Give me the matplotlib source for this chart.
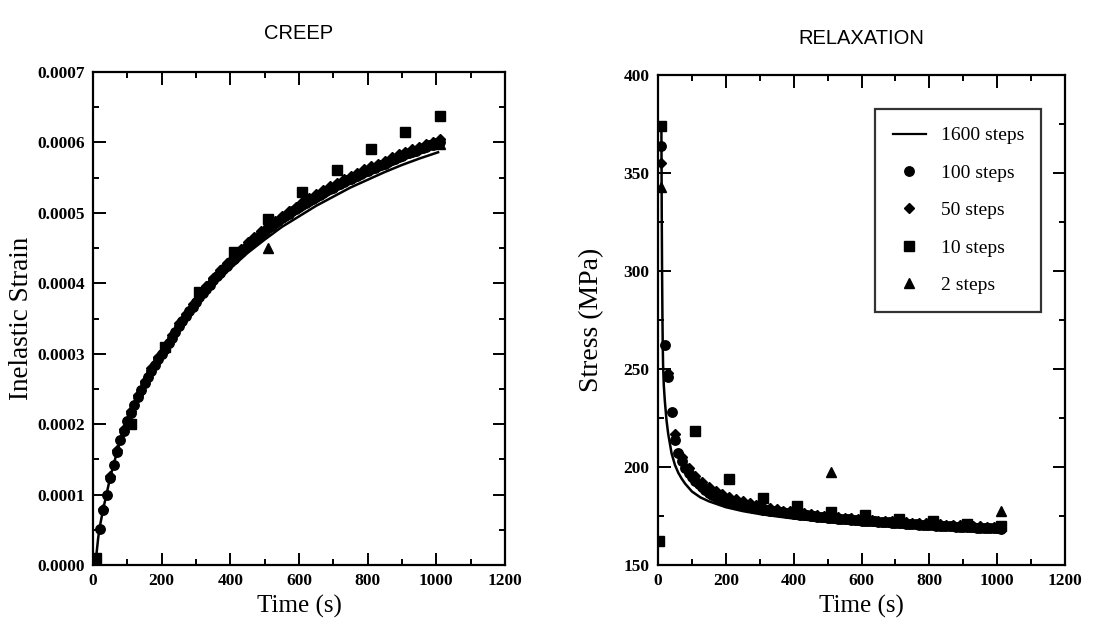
import numpy as np
import matplotlib
matplotlib.use("Agg")
import matplotlib.pyplot as plt
from matplotlib.ticker import MultipleLocator, FormatStrFormatter
from matplotlib.lines import Line2D

# ---------------- CREEP data (strain in units of 1e-4) ----------------
creep_t100 = np.arange(10, 1011, 10)
creep_100 = [0.10, 0.51, 0.78, 1.00, 1.24, 1.42, 1.61, 1.78, 1.90, 2.05,
             2.16, 2.27, 2.38, 2.48, 2.58, 2.67, 2.76, 2.84, 2.92, 3.00,
             3.07, 3.15, 3.23, 3.31, 3.39, 3.46, 3.53, 3.60, 3.67, 3.74,
             3.80, 3.86, 3.92, 3.98, 4.04, 4.10, 4.15, 4.20, 4.25, 4.30,
             4.35, 4.40, 4.45, 4.49, 4.54, 4.58, 4.62, 4.66, 4.70, 4.74,
             4.78, 4.82, 4.85, 4.89, 4.92, 4.95, 4.99, 5.02, 5.05, 5.08,
             5.11, 5.14, 5.17, 5.20, 5.22, 5.25, 5.28, 5.31, 5.34, 5.36,
             5.39, 5.41, 5.44, 5.46, 5.48, 5.51, 5.53, 5.55, 5.58, 5.60,
             5.62, 5.64, 5.66, 5.68, 5.70, 5.72, 5.75, 5.77, 5.79, 5.81,
             5.83, 5.85, 5.87, 5.88, 5.90, 5.92, 5.94, 5.96, 5.97, 5.99,
             6.01]
creep_t50 = np.arange(10, 1011, 20)
creep_50 = [0.10, 0.80, 1.26, 1.63, 1.93, 2.19, 2.41, 2.61, 2.80, 2.96,
            3.11, 3.27, 3.43, 3.57, 3.71, 3.84, 3.96, 4.08, 4.19, 4.29,
            4.39, 4.49, 4.58, 4.66, 4.74, 4.82, 4.89, 4.96, 5.03, 5.09,
            5.15, 5.21, 5.27, 5.32, 5.38, 5.43, 5.48, 5.53, 5.57, 5.62,
            5.66, 5.70, 5.74, 5.79, 5.83, 5.87, 5.91, 5.94, 5.98, 6.01,
            6.05]
creep_t10 = np.arange(10, 1011, 100)
creep_10 = [0.10, 2.00, 3.10, 3.88, 4.44, 4.91, 5.29, 5.61, 5.90, 6.15, 6.38]
creep_t2 = [10, 510, 1010]
creep_2 = [0.10, 4.50, 5.98]
creep_tline = [0, 5, 10, 15, 20, 30, 40, 50, 60, 80, 100, 125, 150, 175, 200,
               250, 300, 350, 400, 450, 500, 550, 600, 650, 700, 750, 800,
               850, 900, 950, 1005]
creep_line = [0.0, 0.05, 0.15, 0.38, 0.55, 0.80, 1.02, 1.24, 1.43, 1.77, 2.04,
              2.33, 2.57, 2.79, 2.98, 3.34, 3.70, 3.97, 4.21, 4.43, 4.62,
              4.80, 4.95, 5.10, 5.23, 5.36, 5.47, 5.58, 5.68, 5.77, 5.86]
STRAIN_UNIT = 1e-4

# ---------------- RELAXATION data (MPa) ----------------
relax_t100 = np.arange(10, 1011, 10)
relax_100 = [364, 262, 246, 228, 214, 207, 203, 199.5, 197, 195,
             193.0, 191.2, 189.6, 188.2, 186.9, 185.8, 184.8, 183.9, 183.1, 182.3,
             181.9, 181.5, 181.1, 180.6, 180.2, 179.9, 179.6, 179.2, 178.9, 178.6,
             178.3, 178.1, 177.8, 177.5, 177.3, 177.0, 176.8, 176.5, 176.3, 176.1,
             175.9, 175.7, 175.5, 175.3, 175.1, 174.9, 174.7, 174.5, 174.4, 174.2,
             174.0, 173.9, 173.7, 173.6, 173.4, 173.3, 173.1, 173.0, 172.8, 172.7,
             172.6, 172.4, 172.3, 172.2, 172.0, 171.9, 171.8, 171.7, 171.5, 171.4,
             171.3, 171.2, 171.1, 171.0, 170.9, 170.8, 170.6, 170.5, 170.4, 170.3,
             170.2, 170.1, 170.0, 169.9, 169.8, 169.8, 169.7, 169.6, 169.5, 169.4,
             169.3, 169.2, 169.2, 169.1, 169.0, 168.9, 168.9, 168.8, 168.7, 168.7,
             168.6]
relax_t50 = np.arange(10, 1011, 20)
relax_50 = [355, 248, 217, 205, 199.5, 195.5, 192.5, 190.0, 188.0, 186.3,
            184.9, 183.6, 182.5, 181.5, 180.6, 179.8, 179.1, 178.4, 177.8, 177.3,
            176.8, 176.3, 175.9, 175.5, 175.1, 174.8, 174.4, 174.1, 173.8, 173.5,
            173.2, 173.0, 172.7, 172.5, 172.2, 172.0, 171.8, 171.6, 171.4, 171.2,
            171.0, 170.8, 170.6, 170.4, 170.3, 170.1, 169.9, 169.8, 169.6, 169.5,
            169.3]
relax_t10 = [4, 10, 110, 210, 310, 410, 510, 610, 710, 810, 910, 1010]
relax_10 = [162, 374, 218.5, 194.1, 184.4, 180.0, 177.1, 175.3, 173.6, 172.2, 171.0, 170.1]
relax_t2 = [10, 510, 1010]
relax_2 = [343, 197.2, 177.6]
relax_tline = [10, 11, 12, 13, 14, 15, 17, 20, 25, 30, 40, 50, 60, 70, 80, 100,
               125, 150, 200, 250, 300, 350, 400, 500, 600, 700, 800, 900, 1005]
relax_line = [374, 330, 300, 278, 262, 252, 242, 234, 224, 217, 207, 201, 197,
              194, 191.5, 187.5, 184.5, 182.5, 179.5, 177.5, 176, 174.8, 173.7,
              172, 170.6, 169.4, 168.4, 167.5, 166.7]

labels = ["1600 steps", "100 steps", "50 steps", "10 steps", "2 steps"]

# ---------------- styling ----------------
SERIF = "Liberation Serif"
SANS = "Liberation Sans"

fig = plt.figure(figsize=(11.09, 6.43), dpi=100)
ax1 = fig.add_axes([93 / 1109, 1 - 565 / 643, 412 / 1109, 493 / 643])
ax2 = fig.add_axes([658 / 1109, 1 - 565 / 643, 407 / 1109, 490 / 643])

mk = dict(color="black", linestyle="none", markeredgecolor="black", markeredgewidth=1.0)
circ = dict(marker="o", markersize=6.8, **mk)
diam = dict(marker="D", markersize=5.2, **mk)
sq = dict(marker="s", markersize=7.0, **mk)
tri = dict(marker="^", markersize=7.0, **mk)


def style_axes(ax):
    for s in ax.spines.values():
        s.set_linewidth(1.6)
        s.set_color("black")
    ax.tick_params(which="both", direction="in", top=True, right=True,
                   colors="black", width=1.4)
    ax.tick_params(which="major", length=9, labelsize=12.5, pad=6)
    ax.tick_params(which="minor", length=4.5)
    ax.xaxis.set_major_locator(MultipleLocator(200))
    ax.xaxis.set_minor_locator(MultipleLocator(100))
    ax.set_xlim(0, 1200)
    for lab in ax.get_xticklabels() + ax.get_yticklabels():
        lab.set_fontfamily(SERIF)
        lab.set_fontweight("bold")
    ax.set_xlabel("Time (s)", fontfamily=SERIF, fontsize=18, labelpad=4)


# CREEP
ax1.plot(creep_tline, np.array(creep_line) * STRAIN_UNIT, color="black", lw=1.8, zorder=2)
ax1.plot(creep_t100, np.array(creep_100) * STRAIN_UNIT, zorder=3, **circ)
ax1.plot(creep_t50, np.array(creep_50) * STRAIN_UNIT, zorder=3, **diam)
ax1.plot(creep_t10, np.array(creep_10) * STRAIN_UNIT, zorder=3, **sq)
ax1.plot(creep_t2, np.array(creep_2) * STRAIN_UNIT, zorder=3, **tri)
ax1.set_ylim(0, 0.0007)
ax1.yaxis.set_major_locator(MultipleLocator(0.0001))
ax1.yaxis.set_minor_locator(MultipleLocator(0.00005))
ax1.yaxis.set_major_formatter(FormatStrFormatter("%.4f"))
style_axes(ax1)
ax1.set_ylabel("Inelastic Strain", fontfamily=SERIF, fontsize=19.5, labelpad=2)
ax1.set_title("CREEP", fontfamily=SANS, fontsize=14.5, pad=24)

# RELAXATION
ax2.plot(relax_tline, relax_line, color="black", lw=1.8, zorder=2)
ax2.plot(relax_t100, relax_100, zorder=3, **circ)
ax2.plot(relax_t50, relax_50, zorder=3, **diam)
ax2.plot(relax_t10, relax_10, zorder=3, **sq)
ax2.plot(relax_t2, relax_2, zorder=3, **tri)
ax2.set_ylim(150, 400)
ax2.yaxis.set_major_locator(MultipleLocator(50))
ax2.yaxis.set_minor_locator(MultipleLocator(25))
style_axes(ax2)
ax2.set_ylabel("Stress (MPa)", fontfamily=SERIF, fontsize=20, labelpad=14)
ax2.set_title("RELAXATION", fontfamily=SANS, fontsize=14.5, pad=22)

handles = [Line2D([], [], color="black", lw=1.6),
           Line2D([], [], **circ), Line2D([], [], **diam),
           Line2D([], [], **sq), Line2D([], [], **tri)]
leg = ax2.legend(handles, labels, loc="upper right", bbox_to_anchor=(0.942, 0.93),
                 prop={"family": SERIF, "size": 14}, frameon=True, fancybox=False,
                 edgecolor="black", handlelength=1.7, handletextpad=0.75,
                 labelspacing=1.02, borderpad=0.9, borderaxespad=0)
leg.get_frame().set_linewidth(1.6)

fig.savefig("out.png", dpi=100, facecolor="white")
